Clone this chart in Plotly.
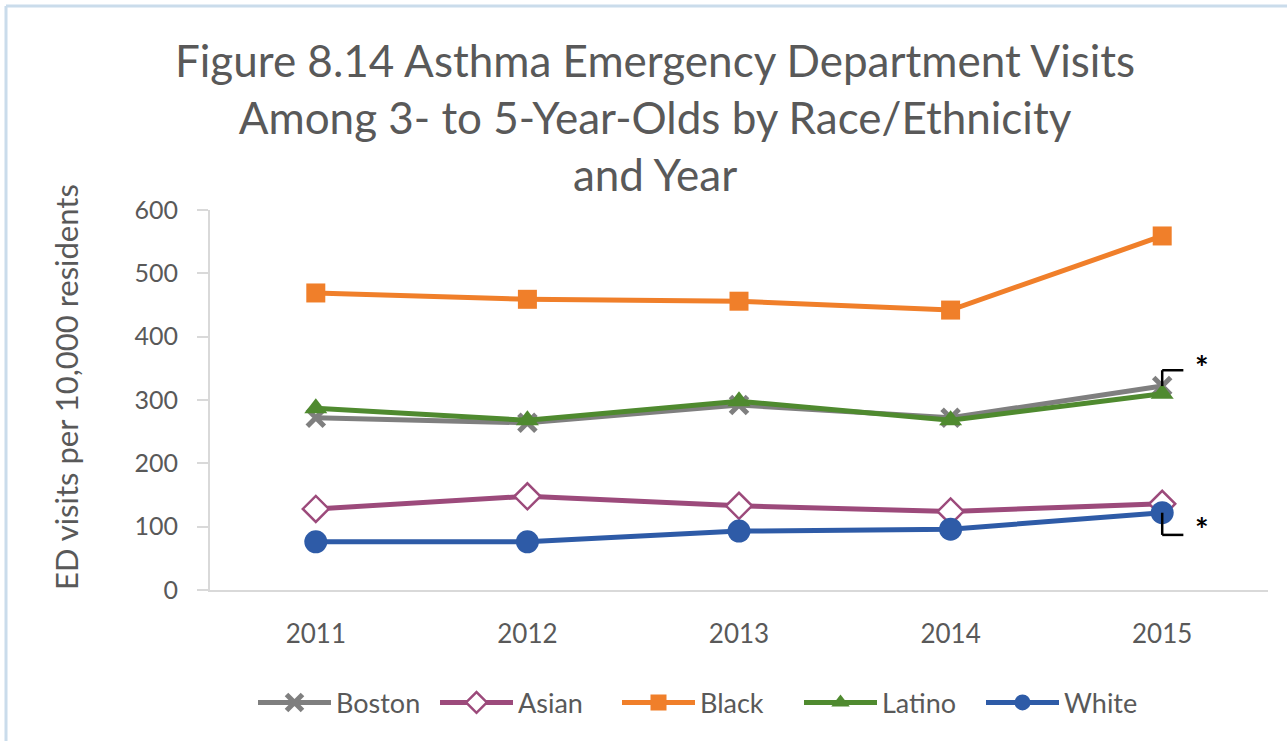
import plotly.graph_objects as go

years = [2011, 2012, 2013, 2014, 2015]
boston = [272, 264, 292, 272, 322]
asian = [128, 148, 133, 124, 136]
black = [469, 459, 456, 442, 559]
latino = [287, 268, 298, 268, 310]
white = [76, 76, 93, 96, 122]

series = [
    ("Boston", boston, "#7F7F7F", "x-thin", 17, dict(line=dict(width=5, color="#7F7F7F"))),
    ("Asian", asian, "#9C4A7B", "diamond", 20, dict(color="white", line=dict(width=2.5, color="#9C4A7B"))),
    ("Black", black, "#F07F2A", "square", 19, dict(color="#F07F2A", line=dict(width=0))),
    ("Latino", latino, "#4F8A2F", "triangle-up", 20, dict(color="#4F8A2F", line=dict(width=0))),
    ("White", white, "#2E5BA7", "circle", 23, dict(color="#2E5BA7", line=dict(width=0))),
]

FONT = "Lato"
GRAY = "#595959"

fig = go.Figure()
for name, vals, color, sym, size, mk in series:
    marker = dict(symbol=sym, size=size)
    marker.update(mk)
    fig.add_trace(go.Scatter(
        x=years, y=vals, name=name, mode="lines+markers",
        line=dict(color=color, width=5),
        marker=marker,
    ))

fig.update_layout(
    width=1287, height=741,
    margin=dict(l=210, r=19, t=210, b=151),
    paper_bgcolor="white", plot_bgcolor="white",
    font=dict(family=FONT, color=GRAY),
    showlegend=True,
    legend=dict(
        orientation="h", x=(253 - 210) / 1058, xanchor="left", y=-0.297, yanchor="middle",
        font=dict(family=FONT, size=27, color=GRAY),
        itemwidth=73, tracegroupgap=0, entrywidth=94,
    ),
)

# title as annotation (multi-line)
fig.add_annotation(
    text="Figure 8.14 Asthma Emergency Department Visits<br>Among 3- to 5-Year-Olds by Race/Ethnicity<br>and Year",
    xref="paper", yref="paper", x=(655 - 210) / 1058, y=(590 - 117) / 380,
    xanchor="center", yanchor="middle", showarrow=False,
    font=dict(family=FONT, size=44, color=GRAY),
)

fig.update_xaxes(
    range=[2010.5, 2015.5], tickmode="array", tickvals=years,
    ticktext=[str(y) for y in years],
    showgrid=False, zeroline=False, showline=True, linecolor="#D9D9D9", linewidth=2,
    ticks="", ticklabelstandoff=20,
    tickfont=dict(family=FONT, size=26, color=GRAY),
)
fig.update_yaxes(
    range=[0, 600], tickmode="array", tickvals=[0, 100, 200, 300, 400, 500, 600],
    showgrid=False, zeroline=False, showline=True, linecolor="#D9D9D9", linewidth=2,
    ticks="outside", ticklen=11, tickcolor="#D9D9D9", tickwidth=2,
    ticklabelstandoff=14,
    tickfont=dict(family=FONT, size=25, color=GRAY),
)

# y-axis title
fig.add_annotation(
    text="ED visits per 10,000 residents", textangle=-90,
    xref="paper", yref="paper", x=(45 - 210) / 1058, y=(590 - 387) / 380, showarrow=False,
    font=dict(family=FONT, size=31, color=GRAY),
)

# significance brackets and asterisks
last = years[-1]
bx = last + 0.1
for val, end, ast in [(boston[-1], boston[-1] + 25, boston[-1] + 30),
                      (white[-1], white[-1] - 35, white[-1] - 27)]:
    fig.add_shape(type="line", xref="x", yref="y", x0=last, x1=last, y0=val, y1=end,
                  line=dict(color="black", width=2.5))
    fig.add_shape(type="line", xref="x", yref="y", x0=last, x1=bx, y0=end, y1=end,
                  line=dict(color="black", width=2.5))
    fig.add_annotation(text="<b>*</b>", xref="x", yref="y", x=last + 0.19, y=ast,
                       showarrow=False, font=dict(family=FONT, size=32, color="black"))

# outer light-blue frame (top and left edges)
fig.add_shape(type="line", xref="paper", yref="paper",
              x0=(6 - 210) / 1058, x1=(1287 - 210) / 1058,
              y0=(590 - 6) / 380, y1=(590 - 6) / 380,
              line=dict(color="#CADCEB", width=3))
fig.add_shape(type="line", xref="paper", yref="paper",
              x0=(6 - 210) / 1058, x1=(6 - 210) / 1058,
              y0=(590 - 6) / 380, y1=(590 - 741) / 380,
              line=dict(color="#CADCEB", width=3))

fig.write_html("out.html")
